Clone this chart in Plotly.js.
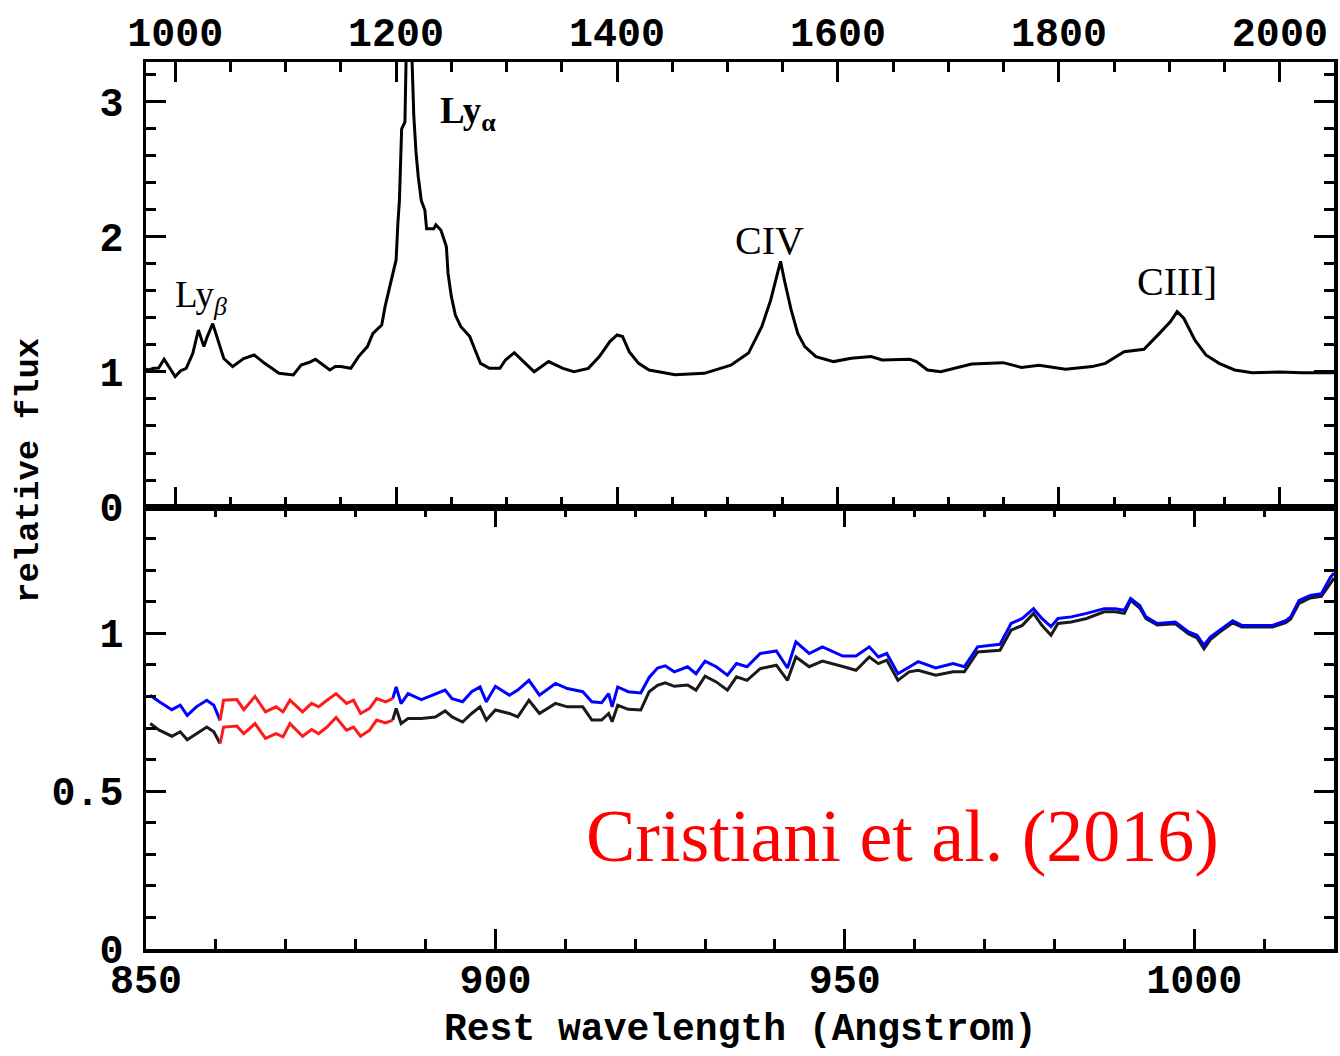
<!DOCTYPE html>
<html>
<head>
<meta charset="utf-8">
<script src="https://cdn.plot.ly/plotly-3.0.1.min.js"></script>
<style>
  html, body { margin: 0; padding: 0; background: #ffffff; }
  #chart { width: 1340px; height: 1056px; }
</style>
</head>
<body>
<div id="chart"></div>
<script>
// Composite quasar spectrum (upper panel): rest wavelength in Angstrom, relative flux
const waveTop = [973.6, 976, 980.5, 985, 990, 995, 1000, 1005, 1010, 1016, 1021, 1026, 1029, 1034, 1039, 1044,
  1052, 1062, 1071.5, 1081, 1094, 1107, 1114, 1121, 1127, 1134, 1140, 1145, 1150, 1159, 1166, 1174, 1179,
  1187, 1190, 1193.5, 1197, 1200, 1201.6, 1203, 1205, 1208, 1211, 1214, 1216, 1218, 1220, 1222.8, 1226,
  1227.6, 1234, 1236, 1240.6, 1245.5, 1247, 1250, 1253.7, 1258.5, 1266.7, 1271.5, 1276.4, 1284.5, 1294,
  1299, 1307, 1317, 1325, 1338, 1351, 1361, 1374, 1384, 1393.5, 1400, 1405, 1411, 1419.5, 1429, 1438,
  1452.5, 1479, 1503, 1519, 1531, 1539, 1545.5, 1548, 1551.5, 1557.6, 1563.6, 1570, 1580, 1596, 1612,
  1630, 1640, 1665, 1671, 1681, 1693, 1705, 1721, 1749.5, 1766, 1782, 1806, 1830, 1842, 1859, 1877, 1891,
  1901, 1907, 1913, 1923, 1933, 1945, 1959, 1975, 2000, 2020, 2049];
const fluxTop = [1.02, 1.015, 1.027, 1.03, 1.094, 1.027, 0.966, 1.01, 1.027, 1.138, 1.311, 1.188, 1.26, 1.358, 1.234, 1.1,
  1.04, 1.1, 1.126, 1.064, 0.99, 0.978, 1.052, 1.07, 1.094, 1.05, 1.015, 1.04, 1.04, 1.027, 1.114, 1.188, 1.286,
  1.348, 1.484, 1.607, 1.73, 1.83, 2.10, 2.27, 2.8, 2.85, 4.2, 3.35, 2.9, 2.63, 2.45, 2.27, 2.2,
  2.06, 2.06, 2.09, 2.05, 1.93, 1.73, 1.56, 1.42, 1.337, 1.262, 1.163, 1.064, 1.027, 1.027,
  1.089, 1.143, 1.064, 1.002, 1.077, 1.027, 1.002, 1.027, 1.114, 1.225, 1.274, 1.262, 1.151, 1.064, 1.015, 1.0,
  0.98, 0.99, 1.05, 1.14, 1.335, 1.53, 1.73, 1.82, 1.68, 1.46, 1.286, 1.188, 1.114, 1.077, 1.101,
  1.114, 1.089, 1.094, 1.077, 1.015, 1.002, 1.027, 1.059, 1.069, 1.034, 1.05, 1.02, 1.04, 1.064, 1.15, 1.168, 1.286,
  1.373, 1.447, 1.398, 1.237, 1.126, 1.064, 1.015, 0.995, 1.0, 0.995, 0.995];

// Lower panel: two spectra on a common wavelength grid
const waveBot = [850.6, 851.9, 853.7, 854.9, 855.9, 857.2, 858.7, 859.7, 860.6, 861.1, 863, 864, 865.6, 867.1,
  868.6, 869.6, 870.6, 872.4, 873.7, 874.7, 875.9, 877.2, 878.7, 879.7, 880.7, 882, 883, 884.3, 885.3, 885.8,
  886.5, 887.5, 889.4, 891.4, 892.8, 893.8, 895.3, 896.6, 897.8, 898.7, 900, 902, 903.2, 904.8, 906.3, 908.6,
  910.3, 912.5, 913.8, 915.2, 916.2, 916.7, 917.5, 919, 920.8, 922, 923.2, 924.3, 925.6, 927.5, 928.7, 930,
  931.6, 933.2, 934.5, 936, 937.9, 940.2, 941.8, 943, 944.9, 946.8, 949.7, 951.6, 953.5, 954.8, 956, 957.6,
  959.2, 960.5, 963, 965.5, 967.1, 969, 972.2, 973.8, 975.4, 977, 978.2, 979.5, 980.5, 982.4, 984.6, 987.1,
  988.7, 990, 990.9, 992.2, 993.1, 994.7, 997.3, 999.2, 1000.4, 1001.4, 1002.3, 1003.6, 1005.5, 1006.8,
  1008.7, 1011.2, 1013.1, 1013.8, 1015, 1016.6, 1018.2, 1019.5, 1020];
const fluxUpper = [0.804, 0.783, 0.758, 0.772, 0.74, 0.767, 0.788, 0.772, 0.724, 0.788, 0.79, 0.758, 0.80, 0.751,
  0.767, 0.751, 0.788, 0.751, 0.778, 0.767, 0.788, 0.809, 0.778, 0.788, 0.746, 0.762, 0.793, 0.783, 0.793, 0.83,
  0.777, 0.809, 0.79, 0.809, 0.82, 0.793, 0.783, 0.815, 0.83, 0.783, 0.832, 0.804, 0.82, 0.851, 0.804, 0.841,
  0.825, 0.815, 0.783, 0.78, 0.809, 0.767, 0.83, 0.815, 0.811, 0.86, 0.89, 0.897, 0.878, 0.894, 0.872, 0.912,
  0.894, 0.867, 0.904, 0.894, 0.936, 0.944, 0.89, 0.973, 0.936, 0.957, 0.928, 0.928, 0.957, 0.925, 0.936, 0.872,
  0.894, 0.91, 0.89, 0.904, 0.894, 0.957, 0.965, 1.031, 1.047, 1.078, 1.047, 1.021, 1.047, 1.052, 1.063, 1.078,
  1.078, 1.073, 1.11, 1.088, 1.052, 1.031, 1.036, 1.004, 0.994, 0.962, 0.988, 1.009, 1.04, 1.025,
  1.025, 1.025, 1.04, 1.052, 1.104, 1.12, 1.125, 1.178, 1.19];
const fluxLower = [0.714, 0.693, 0.674, 0.688, 0.663, 0.682, 0.703, 0.688, 0.651, 0.703, 0.706, 0.682, 0.714, 0.667,
  0.682, 0.672, 0.714, 0.674, 0.695, 0.682, 0.703, 0.733, 0.693, 0.703, 0.674, 0.693, 0.725, 0.716, 0.725, 0.762,
  0.714, 0.73, 0.73, 0.735, 0.754, 0.735, 0.719, 0.746, 0.767, 0.725, 0.757, 0.746, 0.735, 0.788, 0.746, 0.778,
  0.767, 0.767, 0.725, 0.725, 0.746, 0.72, 0.772, 0.759, 0.757, 0.815, 0.835, 0.843, 0.832, 0.836, 0.82, 0.864,
  0.846, 0.82, 0.862, 0.851, 0.888, 0.899, 0.851, 0.925, 0.894, 0.912, 0.895, 0.883, 0.925, 0.904, 0.915, 0.851,
  0.878, 0.883, 0.867, 0.878, 0.878, 0.941, 0.946, 1.01, 1.025, 1.063, 1.025, 0.994, 1.031, 1.036, 1.047, 1.068,
  1.068, 1.063, 1.104, 1.08, 1.046, 1.026, 1.03, 0.998, 0.985, 0.951, 0.98, 1.003, 1.033, 1.02,
  1.02, 1.02, 1.034, 1.045, 1.095, 1.112, 1.117, 1.162, 1.175];

// Wavelength window drawn in red on both lower-panel spectra
const redWindow = [860.6, 885.3];

// Tick label text
const topTickLabelsX = ['1000', '1200', '1400', '1600', '1800', '2000'];

// Split a spectrum into the part inside the window and the parts outside it
function inside(xs, ys, lo, hi) {
  const x = [], y = [];
  xs.forEach((v, i) => { if (v >= lo && v <= hi) { x.push(v); y.push(ys[i]); } });
  return { x, y };
}
function outside(xs, ys, lo, hi) {
  const x = [], y = [];
  xs.forEach((v, i) => {
    if (v <= lo || v >= hi) { x.push(v); y.push(ys[i]); }
    else if (x.length && x[x.length - 1] !== null && x[x.length - 1] <= lo) { x.push(null); y.push(null); }
  });
  return { x, y };
}

const upperIn = inside(waveBot, fluxUpper, redWindow[0], redWindow[1]);
const upperOut = outside(waveBot, fluxUpper, redWindow[0], redWindow[1]);
const lowerIn = inside(waveBot, fluxLower, redWindow[0], redWindow[1]);
const lowerOut = outside(waveBot, fluxLower, redWindow[0], redWindow[1]);

const LW = 3;
const traces = [
  { x: waveTop, y: fluxTop, xaxis: 'x', yaxis: 'y', mode: 'lines',
    line: { color: '#000000', width: LW }, hoverinfo: 'skip' },
  { x: lowerOut.x, y: lowerOut.y, xaxis: 'x2', yaxis: 'y2', mode: 'lines', connectgaps: false,
    line: { color: '#1a1a1a', width: LW }, hoverinfo: 'skip' },
  { x: upperOut.x, y: upperOut.y, xaxis: 'x2', yaxis: 'y2', mode: 'lines', connectgaps: false,
    line: { color: '#0000ff', width: LW }, hoverinfo: 'skip' },
  { x: lowerIn.x, y: lowerIn.y, xaxis: 'x2', yaxis: 'y2', mode: 'lines',
    line: { color: '#ff1a1a', width: LW }, hoverinfo: 'skip' },
  { x: upperIn.x, y: upperIn.y, xaxis: 'x2', yaxis: 'y2', mode: 'lines',
    line: { color: '#ff1a1a', width: LW }, hoverinfo: 'skip' }
];

// Figure geometry (pixels)
const W = 1340, H = 1056;
const M = { l: 146, r: 6, t: 62, b: 107 };
const plotH = H - M.t - M.b;
const split = (H - M.b - 507) / plotH;
const px = v => (v - M.l) / (W - M.l - M.r);
const py = v => (H - M.b - v) / plotH;

const tickFont = { family: 'Liberation Mono, Courier New, monospace', size: 40, color: '#000', weight: 'bold' };
const frame = {
  showline: true, linecolor: '#000', linewidth: 3.5, mirror: 'allticks',
  ticks: 'inside', ticklen: 20, tickwidth: 3, tickcolor: '#000',
  showgrid: false, zeroline: false, tickfont: tickFont, fixedrange: true
};

const layout = {
  width: W, height: H,
  margin: M,
  paper_bgcolor: '#ffffff', plot_bgcolor: '#ffffff',
  showlegend: false,
  xaxis: Object.assign({}, frame, {
    domain: [0, 1], anchor: 'y', side: 'top', range: [973.6, 2049],
    tickmode: 'array', tickvals: topTickLabelsX.map(Number), ticktext: topTickLabelsX,
    ticklabelstandoff: -3,
    minor: { dtick: 50, ticklen: 10, tickwidth: 3, ticks: 'inside', tickcolor: '#000' }
  }),
  yaxis: Object.assign({}, frame, {
    domain: [split, 1], anchor: 'x', range: [0, 3.296], dtick: 1,
    ticklabelstandoff: 11,
    minor: { dtick: 0.2, ticklen: 10, tickwidth: 3, ticks: 'inside', tickcolor: '#000' }
  }),
  xaxis2: Object.assign({}, frame, {
    domain: [0, 1], anchor: 'y2', side: 'bottom', range: [850, 1020], dtick: 50,
    ticklabelstandoff: -8,
    minor: { dtick: 10, ticklen: 10, tickwidth: 3, ticks: 'inside', tickcolor: '#000' }
  }),
  yaxis2: Object.assign({}, frame, {
    domain: [0, split], anchor: 'x2', range: [0, 1.4], dtick: 0.5,
    ticklabelstandoff: 11,
    minor: { dtick: 0.1, ticklen: 10, tickwidth: 3, ticks: 'inside', tickcolor: '#000' }
  }),
  annotations: [
    { text: '<b>Ly<sub>α</sub></b>', xref: 'paper', yref: 'paper', x: px(438), y: py(88),
      xanchor: 'left', yanchor: 'top', showarrow: false,
      font: { family: 'Liberation Serif, Times New Roman, serif', size: 37, color: '#000' } },
    { text: 'Ly<sub><i>β</i></sub>', xref: 'paper', yref: 'paper', x: px(173), y: py(272),
      xanchor: 'left', yanchor: 'top', showarrow: false,
      font: { family: 'Liberation Serif, Times New Roman, serif', size: 37, color: '#000' } },
    { text: 'CIV', xref: 'paper', yref: 'paper', x: px(769), y: py(240),
      xanchor: 'center', yanchor: 'middle', showarrow: false,
      font: { family: 'Liberation Serif, Times New Roman, serif', size: 40, color: '#000' } },
    { text: 'CIII]', xref: 'paper', yref: 'paper', x: px(1177), y: py(282),
      xanchor: 'center', yanchor: 'middle', showarrow: false,
      font: { family: 'Liberation Serif, Times New Roman, serif', size: 40, color: '#000' } },
    { text: 'Cristiani et al. (2016)', xref: 'paper', yref: 'paper', x: px(584), y: py(836),
      xanchor: 'left', yanchor: 'middle', showarrow: false,
      font: { family: 'Liberation Serif, Times New Roman, serif', size: 74, color: '#ff0000' } },
    { text: 'relative flux', xref: 'paper', yref: 'paper', x: px(29), y: py(471),
      xanchor: 'center', yanchor: 'middle', textangle: -90, showarrow: false,
      font: { family: 'Liberation Mono, Courier New, monospace', size: 34, color: '#000', weight: 'bold' } },
    { text: 'Rest wavelength (Angstrom)', xref: 'paper', yref: 'paper', x: px(740), y: py(1029),
      xanchor: 'center', yanchor: 'middle', showarrow: false,
      font: { family: 'Liberation Mono, Courier New, monospace', size: 38, color: '#000', weight: 'bold' } }
  ]
};

Plotly.newPlot('chart', traces, layout, { staticPlot: true, displayModeBar: false });
</script>
</body>
</html>
